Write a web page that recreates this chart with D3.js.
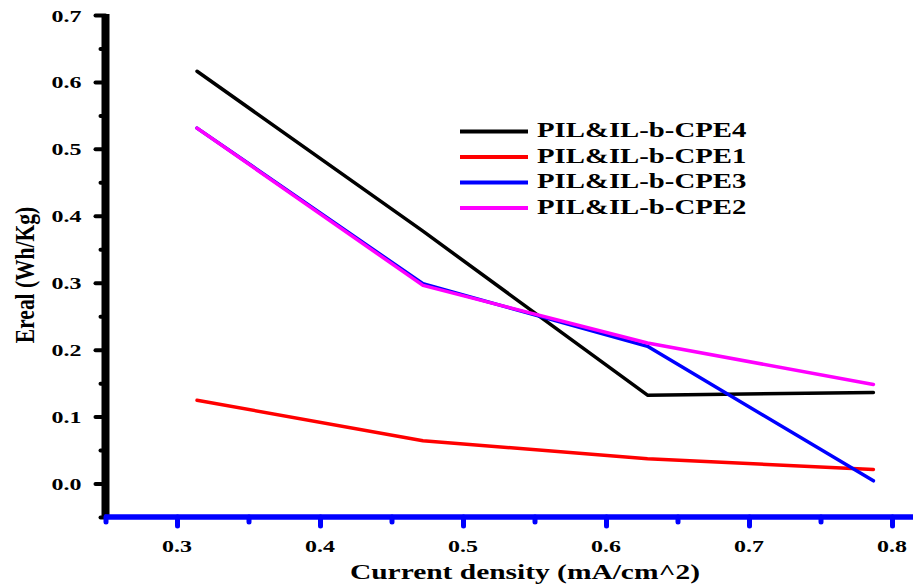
<!DOCTYPE html>
<html>
<head>
<meta charset="utf-8">
<script src="https://cdn.jsdelivr.net/npm/d3@7"></script>
<style>
  body { margin: 0; background: #fff; }
  svg { display: block; }
  text { font-family: "Liberation Serif", "Times New Roman", serif; font-weight: bold; fill: #000; }
</style>
</head>
<body>
<svg id="chart" width="913" height="586"></svg>
<script>
// Energy (Ereal) versus current density for the four electrolytes
const currentDensity = [0.314, 0.472, 0.629, 0.787];
const cpe4 = [0.616, 0.377, 0.132, 0.136];
const cpe1 = [0.1245, 0.064, 0.037, 0.021];
const cpe3 = [0.531, 0.2985, 0.205, 0.004];
const cpe2 = [0.531, 0.296, 0.210, 0.148];

const seriesNames = ["PIL&IL-b-CPE4", "PIL&IL-b-CPE1", "PIL&IL-b-CPE3", "PIL&IL-b-CPE2"];
const seriesColors = ["#000000", "#ff0000", "#0000ff", "#ff00ff"];
const seriesValues = [cpe4, cpe1, cpe3, cpe2];

const xTicks = [0.3, 0.4, 0.5, 0.6, 0.7, 0.8];
const xMinorTicks = [0.25, 0.35, 0.45, 0.55, 0.65, 0.75];
const yTicks = [0.0, 0.1, 0.2, 0.3, 0.4, 0.5, 0.6, 0.7];
const yMinorTicks = [-0.05, 0.05, 0.15, 0.25, 0.35, 0.45, 0.55, 0.65];

const xTitle = "Current density (mA/cm^2)";
const yTitle = "Ereal (Wh/Kg)";

// text is drawn slightly widened horizontally
const SX = 1.37;

const svg = d3.select("#chart");

const x = d3.scaleLinear().domain([0.25, 0.82]).range([105.5, 920.6]);
const y = d3.scaleLinear().domain([-0.05, 0.7]).range([517, 15]);

// ---- series lines (drawn first, axes on top)
const line = d3.line()
  .x((d, i) => x(currentDensity[i]))
  .y(d => y(d));

const order = [0, 1, 2, 3];
svg.append("g").selectAll("path")
  .data(order)
  .join("path")
  .attr("d", i => line(seriesValues[i]))
  .attr("fill", "none")
  .attr("stroke", i => seriesColors[i])
  .attr("stroke-width", 3.5)
  .attr("stroke-linejoin", "round")
  .attr("stroke-linecap", "round");

// ---- y axis (black)
const yAxisX = x(0.25);
const yMajor = svg.append("g")
  .attr("transform", `translate(${yAxisX},0)`)
  .call(d3.axisLeft(y).tickValues(yTicks).tickSize(10).tickFormat(""));
const yMinor = svg.append("g")
  .attr("transform", `translate(${yAxisX},0)`)
  .call(d3.axisLeft(y).tickValues(yMinorTicks).tickSize(5).tickFormat(""));
[yMajor, yMinor].forEach(g => {
  g.select(".domain").remove();
  g.selectAll(".tick line")
    .attr("stroke", "#000")
    .attr("stroke-width", 4)
    .attr("stroke-linecap", "round");
});
svg.append("line")
  .attr("x1", yAxisX).attr("x2", yAxisX)
  .attr("y1", y(0.7) - 1).attr("y2", y(-0.05) + 1)
  .attr("stroke", "#000")
  .attr("stroke-width", 8);

svg.append("g").selectAll("text")
  .data(yTicks)
  .join("text")
  .attr("transform", d => `translate(${yAxisX - 24},${y(d) + 6.5}) scale(${SX},1)`)
  .attr("text-anchor", "end")
  .attr("font-size", 17.5)
  .text(d => d3.format(".1f")(d));

// ---- x axis (blue)
const xAxisY = y(-0.05);
const xMajor = svg.append("g")
  .attr("transform", `translate(0,${xAxisY})`)
  .call(d3.axisBottom(x).tickValues(xTicks).tickSize(9).tickFormat(""));
const xMinor = svg.append("g")
  .attr("transform", `translate(0,${xAxisY})`)
  .call(d3.axisBottom(x).tickValues(xMinorTicks).tickSize(5).tickFormat(""));
[xMajor, xMinor].forEach(g => {
  g.select(".domain").remove();
  g.selectAll(".tick line")
    .attr("stroke", "#0000ff")
    .attr("stroke-width", 5)
    .attr("stroke-linecap", "round");
});
svg.append("line")
  .attr("x1", yAxisX - 1).attr("x2", 913)
  .attr("y1", xAxisY).attr("y2", xAxisY)
  .attr("stroke", "#0000ff")
  .attr("stroke-width", 5.5);

svg.append("g").selectAll("text")
  .data(xTicks)
  .join("text")
  .attr("transform", d => `translate(${x(d)},${xAxisY + 35}) scale(${SX},1)`)
  .attr("text-anchor", "middle")
  .attr("font-size", 17.5)
  .text(d => d3.format(".1f")(d));

// ---- axis titles
svg.append("text")
  .attr("transform", `translate(525,579) scale(${SX},1)`)
  .attr("text-anchor", "middle")
  .attr("font-size", 21.5)
  .text(xTitle);

svg.append("text")
  .attr("transform", `translate(34,275) rotate(-90) scale(1,1.3)`)
  .attr("text-anchor", "middle")
  .attr("font-size", 21.5)
  .text(yTitle);

// ---- legend
const legend = svg.append("g");
const legendRows = legend.selectAll("g")
  .data(order)
  .join("g")
  .attr("transform", i => `translate(460,${131.5 + i * 25.5})`);
legendRows.append("line")
  .attr("x1", 0).attr("x2", 68)
  .attr("stroke", i => seriesColors[i])
  .attr("stroke-width", 4);
legendRows.append("text")
  .attr("transform", `translate(77,5.5) scale(${SX},1)`)
  .attr("font-size", 21)
  .text(i => seriesNames[i]);
</script>
</body>
</html>
